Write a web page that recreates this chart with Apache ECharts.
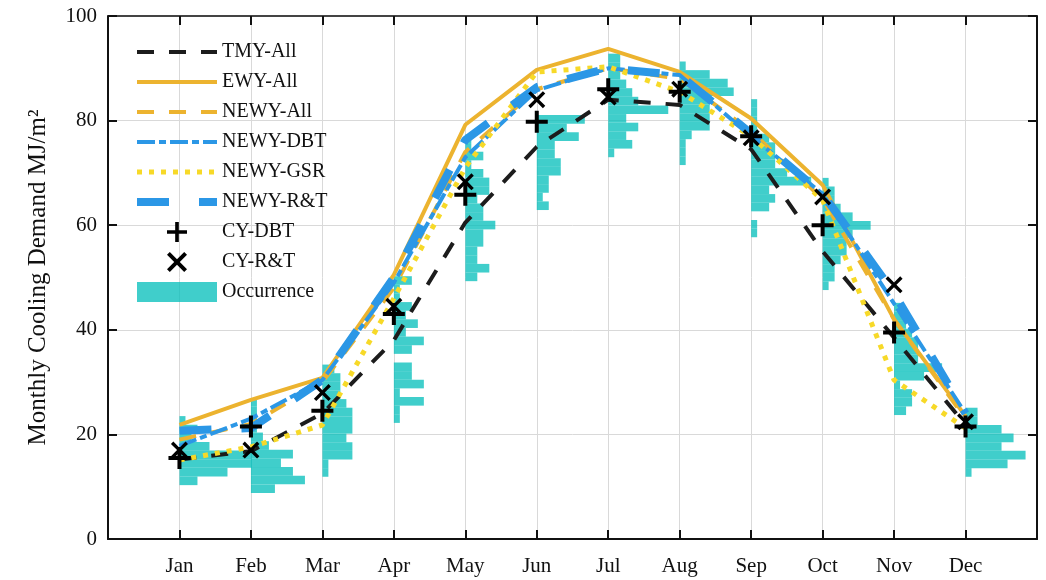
<!DOCTYPE html>
<html>
<head>
    <meta charset="utf-8">
    <title>Monthly Cooling Demand</title>
    <script src="https://cdn.jsdelivr.net/npm/echarts@6/dist/echarts.min.js"></script>
</head>
<body style="margin:0;background:#fff;">
    <div id="main" style="width:1046px;height:580px;"></div>
    <script type="text/javascript">
        // month labels (x = 1..12)
        var months = ['Jan', 'Feb', 'Mar', 'Apr', 'May', 'Jun', 'Jul', 'Aug', 'Sep', 'Oct', 'Nov', 'Dec'];

        // line series, MJ/m2
        var tmyAll  = [15.2, 16.8, 24.0, 38.0, 60.5, 75.0, 84.0, 83.0, 74.5, 55.0, 38.5, 21.8];
        var ewyAll  = [21.8, 26.6, 30.8, 50.5, 79.2, 89.7, 93.7, 89.3, 80.4, 67.7, 42.0, 23.5];
        var newyAll = [19.0, 22.0, 30.0, 48.0, 74.0, 86.0, 90.0, 88.0, 78.0, 65.0, 42.0, 23.0];
        var newyDbt = [17.8, 23.0, 30.4, 49.0, 73.0, 85.8, 90.0, 88.7, 77.0, 66.0, 45.0, 24.0];
        var newyGsr = [15.1, 17.6, 21.8, 46.0, 71.0, 89.3, 90.3, 85.5, 77.0, 64.8, 30.4, 21.2];
        var newyRT  = [20.7, 21.2, 30.4, 50.0, 76.3, 86.4, 90.0, 88.7, 77.5, 66.0, 47.0, 24.0];

        // markers
        var cyDbt = [15.5, 21.5, 24.5, 43.0, 65.8, 79.8, 86.0, 85.5, 77.0, 60.0, 39.5, 21.5];
        var cyRT  = [17.0, 17.0, 28.0, 44.5, 68.3, 84.0, 84.5, 86.0, 76.7, 65.4, 48.6, 22.4];

        // occurrence histograms: lowest bin edge per month, bin height, counts bottom -> top
        var histBin = 1.65;
        var histStart = [10.3, 8.8, 11.9, 22.2, 49.3, 62.9, 73.0, 71.5, 57.7, 47.6, 23.7, 11.9];
        var histCounts = [
            [3, 8, 12, 12, 5, 2, 3, 1],
            [4, 9, 7, 5, 7, 3, 2, 1, 1, 1, 1],
            [1, 1, 5, 5, 4, 5, 5, 5, 4, 3, 3, 3, 2],
            [1, 1, 5, 1, 5, 3, 3, 0, 3, 5, 2, 4, 2, 3, 1, 1, 3],
            [2, 4, 2, 2, 3, 3, 5, 3, 3, 2, 4, 4, 3, 1, 3, 1, 1],
            [2, 1, 2, 2, 4, 4, 3, 3, 7, 5, 8],
            [1, 4, 3, 5, 3, 10, 5, 4, 3, 2, 2, 2],
            [1, 1, 1, 2, 5, 5, 5, 5, 9, 8, 5, 1],
            [1, 1, 0, 3, 4, 3, 10, 6, 4, 4, 4, 3, 1, 1, 1, 1],
            [1, 2, 2, 3, 4, 4, 5, 8, 5, 3, 2, 2, 1],
            [2, 3, 3, 1, 5, 8, 4, 4, 4, 3, 2, 2, 1],
            [1, 7, 10, 6, 8, 6, 2, 2]
        ];
        var countScale = 0.084; // x units per count

        var serif = '"Liberation Serif", "DejaVu Serif", serif';

        function pairs(arr) {
            return arr.map(function (v, i) { return [i + 1, v]; });
        }

        var histData = [];
        histCounts.forEach(function (counts, m) {
            counts.forEach(function (c, k) {
                if (c > 0) {
                    var lo = histStart[m] + k * histBin;
                    histData.push([m + 1, lo, lo + histBin, c]);
                }
            });
        });

        var plusPath = 'path://M9,0H13V9H22V13H13V22H9V13H0V9H9Z';
        var crossPath = 'path://M0,2.8L2.8,0L10,7.2L17.2,0L20,2.8L12.8,10L20,17.2L17.2,20L10,12.8L2.8,20L0,17.2L7.2,10Z';

        var myChart = echarts.init(document.getElementById('main'));

        function lineSeries(name, arr, color, width, type, z) {
            return {
                name: name,
                type: 'line',
                data: pairs(arr),
                symbol: 'none',
                z: z,
                lineStyle: { color: color, width: width, type: type, cap: 'butt' },
                itemStyle: { color: color }
            };
        }

        // legend entry for a line: no marker, only the line
        function lineLegend(name) {
            return { name: name, itemStyle: { opacity: 0 } };
        }

        var orange = '#ecb32f';
        var blue = '#2b97e6';
        var yellow = '#f7d928';

        var option = {
            animation: false,
            backgroundColor: '#fff',
            grid: { left: 108, right: 9, top: 16, bottom: 41 },
            legend: {
                left: 128,
                top: 37,
                orient: 'vertical',
                itemWidth: 80,
                itemHeight: 20,
                itemGap: 10,
                lineStyle: { width: 'inherit' },
                textStyle: { fontFamily: serif, fontSize: 20, color: '#111' },
                data: [
                    lineLegend('TMY-All'), lineLegend('EWY-All'), lineLegend('NEWY-All'),
                    lineLegend('NEWY-DBT'), lineLegend('NEWY-GSR'), lineLegend('NEWY-R&T'),
                    'CY-DBT', 'CY-R&T', { name: 'Occurrence', icon: 'rect' }
                ]
            },
            xAxis: [
                {
                    type: 'value', min: 0, max: 13, interval: 1, position: 'bottom',
                    axisLine: { onZero: false, lineStyle: { color: '#111', width: 2 } },
                    axisTick: { inside: true, length: 9, lineStyle: { color: '#111', width: 2 } },
                    axisLabel: {
                        margin: 17, fontFamily: serif, fontSize: 21, color: '#111',
                        formatter: function (v) { return (v >= 1 && v <= 12) ? months[v - 1] : ''; }
                    },
                    splitLine: { show: true, lineStyle: { color: '#d9d9d9', width: 1 } }
                },
                {
                    type: 'value', min: 0, max: 13, interval: 1, position: 'top',
                    axisLine: { onZero: false, lineStyle: { color: '#444', width: 2 } },
                    axisTick: { inside: true, length: 9, lineStyle: { color: '#111', width: 2 } },
                    axisLabel: { show: false },
                    splitLine: { show: false }
                }
            ],
            yAxis: [
                {
                    type: 'value', min: 0, max: 100, interval: 20, position: 'left',
                    name: 'Monthly Cooling Demand MJ/m²',
                    nameLocation: 'middle',
                    nameGap: 57,
                    nameTextStyle: { fontFamily: serif, fontSize: 25, color: '#111' },
                    axisLine: { show: true, onZero: false, lineStyle: { color: '#111', width: 2 } },
                    axisTick: { show: true, inside: true, length: 9, lineStyle: { color: '#111', width: 2 } },
                    axisLabel: { margin: 11, fontFamily: serif, fontSize: 21, color: '#111' },
                    splitLine: { show: true, lineStyle: { color: '#d9d9d9', width: 1 } }
                },
                {
                    type: 'value', min: 0, max: 100, interval: 20, position: 'right',
                    axisLine: { show: true, onZero: false, lineStyle: { color: '#111', width: 2 } },
                    axisTick: { show: true, inside: true, length: 9, lineStyle: { color: '#111', width: 2 } },
                    axisLabel: { show: false },
                    splitLine: { show: false }
                }
            ],
            series: [
                {
                    name: 'Occurrence',
                    type: 'custom',
                    z: 1,
                    itemStyle: { color: 'rgba(0,190,186,0.75)' },
                    data: histData,
                    encode: { x: [0], y: [1, 2] },
                    renderItem: function (params, api) {
                        var p0 = api.coord([api.value(0), api.value(2)]);
                        var p1 = api.coord([api.value(0) + api.value(3) * countScale, api.value(1)]);
                        return {
                            type: 'rect',
                            shape: { x: p0[0], y: p0[1], width: p1[0] - p0[0], height: p1[1] - p0[1] },
                            style: { fill: 'rgba(0,190,186,0.75)' }
                        };
                    }
                },
                lineSeries('TMY-All', tmyAll, '#1c1c1c', 4, [17, 15], 2),
                lineSeries('EWY-All', ewyAll, orange, 4, 'solid', 2),
                lineSeries('NEWY-All', newyAll, orange, 4, [17, 15], 2),
                lineSeries('NEWY-DBT', newyDbt, blue, 4, [18, 4, 7, 4], 2),
                lineSeries('NEWY-GSR', newyGsr, yellow, 5, [5, 7], 2),
                lineSeries('NEWY-R&T', newyRT, blue, 8, [32, 30], 2),
                {
                    name: 'CY-DBT',
                    type: 'scatter',
                    z: 3,
                    data: pairs(cyDbt),
                    symbol: plusPath,
                    symbolSize: 22,
                    itemStyle: { color: '#000', opacity: 1 }
                },
                {
                    name: 'CY-R&T',
                    type: 'scatter',
                    z: 3,
                    data: pairs(cyRT),
                    symbol: crossPath,
                    symbolSize: 17,
                    itemStyle: { color: '#000', opacity: 1 }
                }
            ]
        };

        myChart.setOption(option);
    </script>
</body>
</html>
